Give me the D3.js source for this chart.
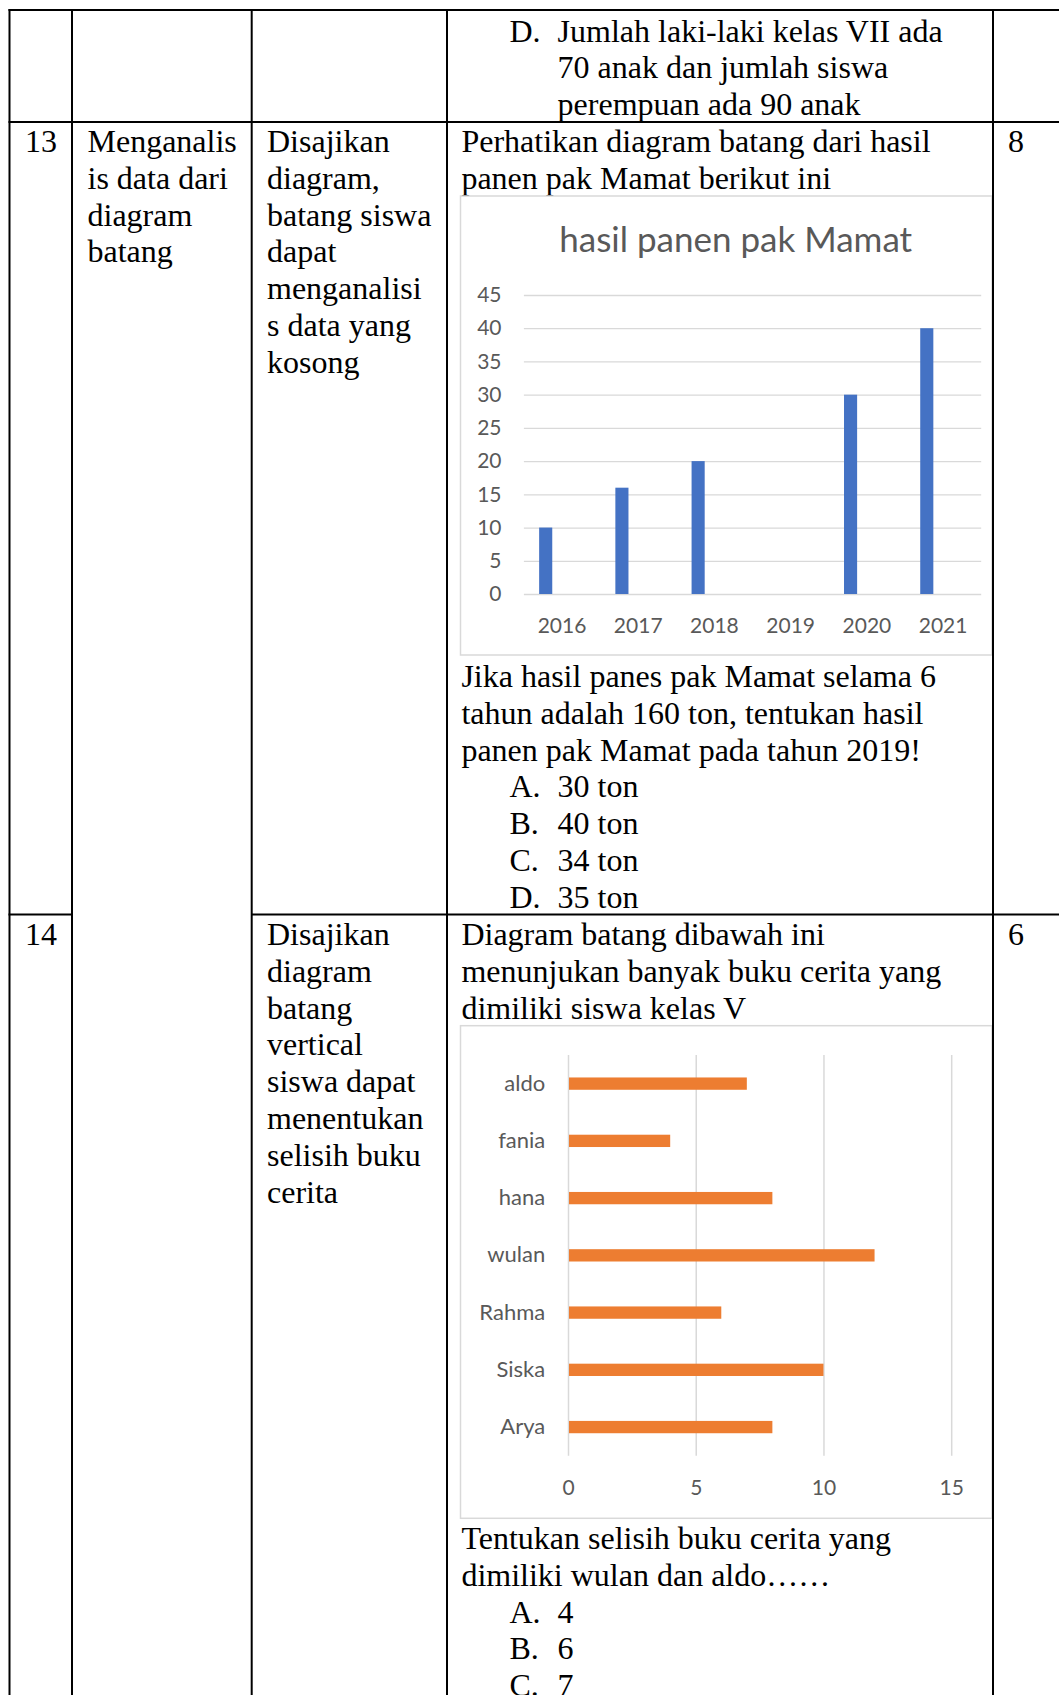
<!DOCTYPE html>
<html>
<head>
<meta charset="utf-8">
<script src="https://cdn.jsdelivr.net/npm/d3@7"></script>
<style>
  html, body { margin: 0; padding: 0; background: #fff; }
  svg { display: block; }
  .tbl { font-family: "Liberation Serif", "Times New Roman", serif; font-size: 32px; fill: #000; }
  .chart text { font-family: Lato, "Open Sans", sans-serif; fill: #595959; }
</style>
</head>
<body>
<svg id="page" width="1059" height="1695"></svg>
<script>
// ---------- DATA ----------
const years = ["2016", "2017", "2018", "2019", "2020", "2021"];
const harvest = [10, 16, 20, null, 30, 40];
const harvestTicks = [0, 5, 10, 15, 20, 25, 30, 35, 40, 45];
const harvestTitle = "hasil panen pak Mamat";

const students = ["aldo", "fania", "hana", "wulan", "Rahma", "Siska", "Arya"];
const books = [7, 4, 8, 12, 6, 10, 8];
const bookTicks = [0, 5, 10, 15];

// ---------- TEXT ----------
const row0Options = [["D.", "Jumlah laki-laki kelas VII ada"], ["", "70 anak dan jumlah siswa"], ["", "perempuan ada 90 anak"]];
const r13No = "13", r13Score = "8";
const r13Col2 = ["Menganalis", "is data dari", "diagram", "batang"];
const r13Col3 = ["Disajikan", "diagram,", "batang siswa", "dapat", "menganalisi", "s data yang", "kosong"];
const r13Intro = ["Perhatikan diagram batang dari hasil", "panen pak Mamat berikut ini"];
const r13Question = ["Jika hasil panes pak Mamat selama 6", "tahun adalah 160 ton, tentukan hasil", "panen pak Mamat pada tahun 2019!"];
const r13Options = [["A.", "30 ton"], ["B.", "40 ton"], ["C.", "34 ton"], ["D.", "35 ton"]];
const r14No = "14", r14Score = "6";
const r14Col3 = ["Disajikan", "diagram", "batang", "vertical", "siswa dapat", "menentukan", "selisih buku", "cerita"];
const r14Intro = ["Diagram batang dibawah ini", "menunjukan banyak buku cerita yang", "dimiliki siswa kelas V"];
const r14Question = ["Tentukan selisih buku cerita yang", "dimiliki wulan dan aldo……"];
const r14Options = [["A.", "4"], ["B.", "6"], ["C.", "7"]];

// ---------- LAYOUT ----------
const W = 1059, H = 1695;
const LH = 36.8;
const colX = [9.5, 72, 251.7, 447, 993];
const rowY = [10, 122, 914.5];
const padX = [25, 87.5, 267, 461.4, 1008];
const optLetterX = 509.5, optTextX = 557.6;

const svg = d3.select("#page");
const tbl = svg.append("g").attr("class", "tbl");

function lines(arr, x, y0) {
  arr.forEach((t, i) => tbl.append("text").attr("x", x).attr("y", y0 + i * LH).text(t));
}
function options(arr, y0) {
  arr.forEach((o, i) => {
    if (o[0]) tbl.append("text").attr("x", optLetterX).attr("y", y0 + i * LH).text(o[0]);
    tbl.append("text").attr("x", optTextX).attr("y", y0 + i * LH).text(o[1]);
  });
}

// Row 0 (continuation)
options(row0Options, 41.5);

// Row 13
const b13 = 152;
lines([r13No], padX[0], b13);
lines(r13Col2, padX[1], b13);
lines(r13Col3, padX[2], b13);
lines(r13Intro, padX[3], b13);
lines([r13Score], padX[4], b13);
lines(r13Question, padX[3], 687);
options(r13Options, 687 + 3 * LH);

// Row 14
const b14 = 945;
lines([r14No], padX[0], b14);
lines(r14Col3, padX[2], b14);
lines(r14Intro, padX[3], b14);
lines([r14Score], padX[4], b14);
lines(r14Question, padX[3], 1549);
options(r14Options, 1549 + 2 * LH);

// ---------- CHART 1: vertical bars ----------
const c1 = svg.append("g").attr("class", "chart");
const box1 = { x: 460.5, y: 196, w: 992 - 460.5, h: 655 - 196 };
c1.append("rect").attr("x", box1.x).attr("y", box1.y).attr("width", box1.w).attr("height", box1.h)
  .attr("fill", "#fff").attr("stroke", "#D9D9D9").attr("stroke-width", 1.5);

const p1 = { left: 523.9, right: 981.2, top: 295, bottom: 594 };
const x1 = d3.scaleBand().domain(years).range([p1.left, p1.right]).padding(0);
const y1 = d3.scaleLinear().domain([0, 45]).range([p1.bottom, p1.top]);

const gy1 = c1.append("g").attr("transform", `translate(${p1.left},0)`)
  .call(d3.axisLeft(y1).tickValues(harvestTicks).tickSize(-(p1.right - p1.left)).tickPadding(22.4).tickFormat(d3.format("d")));
gy1.select(".domain").remove();
gy1.selectAll("line").attr("stroke", "#D9D9D9").attr("stroke-width", 1.3);
gy1.selectAll("text").attr("font-size", 21).attr("fill", "#595959").attr("font-family", "Lato, sans-serif");

const gx1 = c1.append("g").attr("transform", `translate(0,${p1.bottom})`)
  .call(d3.axisBottom(x1).tickSize(0).tickPadding(24.5));
gx1.select(".domain").remove();
gx1.selectAll("text").attr("font-size", 21).attr("fill", "#595959").attr("font-family", "Lato, sans-serif");

c1.append("g").selectAll("rect")
  .data(years.map((yr, i) => ({ yr, v: harvest[i] })).filter(d => d.v != null))
  .join("rect")
  .attr("x", d => x1(d.yr) + x1.bandwidth() * 0.2)
  .attr("width", x1.bandwidth() * 0.172)
  .attr("y", d => y1(d.v))
  .attr("height", d => y1(0) - y1(d.v))
  .attr("fill", "#4472C4");

c1.append("text").attr("x", 735.7).attr("y", 252).attr("text-anchor", "middle")
  .attr("font-size", 35).text(harvestTitle);

// ---------- CHART 2: horizontal bars ----------
const c2 = svg.append("g").attr("class", "chart");
const box2 = { x: 460.5, y: 1025.7, w: 992 - 460.5, h: 1518.3 - 1025.7 };
c2.append("rect").attr("x", box2.x).attr("y", box2.y).attr("width", box2.w).attr("height", box2.h)
  .attr("fill", "#fff").attr("stroke", "#D9D9D9").attr("stroke-width", 1.5);

const p2 = { left: 568, right: 951.2, top: 1055, bottom: 1455.7 };
const x2 = d3.scaleLinear().domain([0, 15]).range([p2.left, p2.right]);
const y2 = d3.scaleBand().domain(students).range([p2.top, p2.bottom]).paddingInner(0.785).paddingOuter(0.3925);

const gx2 = c2.append("g").attr("transform", `translate(0,${p2.bottom})`)
  .call(d3.axisBottom(x2).tickValues(bookTicks).tickSize(-(p2.bottom - p2.top)).tickPadding(24.5).tickFormat(d3.format("d")));
gx2.select(".domain").remove();
gx2.selectAll("line").attr("stroke", "#D9D9D9").attr("stroke-width", 1.5);
gx2.selectAll("text").attr("font-size", 21).attr("fill", "#595959").attr("font-family", "Lato, sans-serif");

const gy2 = c2.append("g").attr("transform", `translate(${p2.left},0)`)
  .call(d3.axisLeft(y2).tickSize(0).tickPadding(22.8));
gy2.select(".domain").remove();
gy2.selectAll("text").attr("font-size", 22).attr("fill", "#595959").attr("font-family", "Lato, sans-serif");

c2.append("g").selectAll("rect")
  .data(students.map((s, i) => ({ s, v: books[i] })))
  .join("rect")
  .attr("x", x2(0) + 1)
  .attr("y", d => y2(d.s))
  .attr("width", d => x2(d.v) - x2(0) - 1)
  .attr("height", y2.bandwidth())
  .attr("fill", "#ED7D31");

// ---------- TABLE LINES ----------
const lg = svg.append("g").attr("stroke", "#000").attr("stroke-width", 2);
colX.forEach(x => lg.append("line").attr("x1", x).attr("x2", x).attr("y1", rowY[0] - 1).attr("y2", H));
lg.append("line").attr("x1", colX[0] - 1).attr("x2", W).attr("y1", rowY[0]).attr("y2", rowY[0]);
lg.append("line").attr("x1", colX[0] - 1).attr("x2", W).attr("y1", rowY[1]).attr("y2", rowY[1]);
lg.append("line").attr("x1", colX[0] - 1).attr("x2", colX[1]).attr("y1", rowY[2]).attr("y2", rowY[2]);
lg.append("line").attr("x1", colX[2]).attr("x2", W).attr("y1", rowY[2]).attr("y2", rowY[2]);
</script>
</body>
</html>
